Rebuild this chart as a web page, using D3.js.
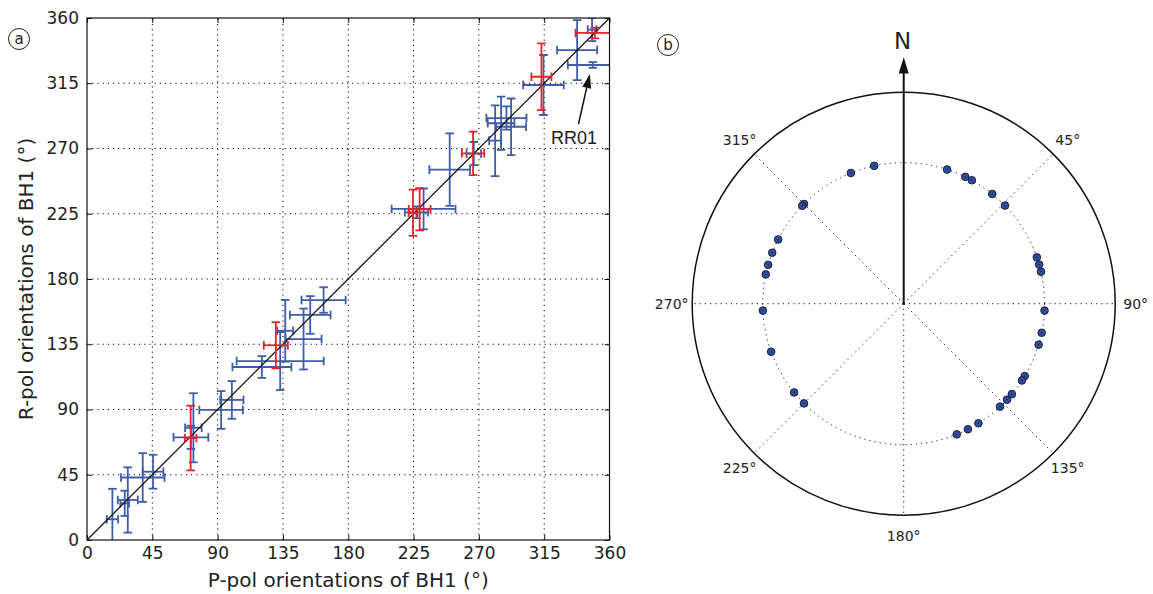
<!DOCTYPE html>
<html>
<head>
<meta charset="utf-8">
<script src="https://cdn.jsdelivr.net/npm/d3@7"></script>
<style>
  html, body { margin: 0; padding: 0; background: #fff; }
  svg { display: block; }
  text { font-family: "DejaVu Sans", sans-serif; fill: #222; }
</style>
</head>
<body>
<svg id="chart" width="1153" height="594"></svg>
<script>
// ---------- data: panel a ----------
const axisTicks = [0, 45, 90, 135, 180, 225, 270, 315, 360];
const xTitle = "P-pol orientations of BH1 (°)";
const yTitle = "R-pol orientations of BH1 (°)";

const blueP    = [17.5, 26.0, 28.1, 38.4, 45.5, 73.3, 71.6, 92.4, 99.8, 120.5, 133.1, 136.6, 149.2, 153.8, 163.0, 231.9, 227.0, 249.9, 266.5, 281.2, 285.3, 292.2, 289.0, 314.5, 337.7, 348.5, 348.0];
const blueR    = [14.3, 25.3, 27.6, 43.1, 47.1, 77.4, 70.8, 89.7, 96.6, 119.3, 123.4, 144.3, 138.6, 155.2, 165.5, 228.3, 226.0, 255.4, 266.5, 275.4, 287.4, 285.0, 291.0, 313.8, 337.9, 327.6, 352.0];
const bluePErr = [3.9, 3.0, 6.9, 15.0, 7.1, 5.7, 12.0, 15.0, 8.0, 20.3, 30.0, 5.5, 12.4, 14.0, 15.2, 22.0, 8.0, 14.0, 5.0, 4.1, 9.2, 10.3, 13.8, 14.0, 13.8, 17.2, 3.0];
const blueRErr = [21.0, 8.7, 22.5, 16.8, 11.7, 23.8, 8.0, 13.0, 13.0, 7.5, 20.0, 21.3, 21.0, 13.0, 8.8, 14.1, 4.0, 25.0, 8.0, 24.4, 18.4, 19.5, 8.0, 20.7, 20.7, 2.0, 8.0];

const redP    = [71.4, 130.1, 229.2, 224.6, 266.0, 313.1, 349.9];
const redR    = [70.3, 134.3, 228.1, 225.7, 266.7, 319.5, 349.7];
const redPErr = [4.0, 8.3, 7.5, 3.0, 7.7, 6.9, 13.3];
const redRErr = [22.3, 15.9, 14.5, 16.0, 15.0, 23.0, 3.7];

const annotationLabel = "RR01";

// ---------- data: panel b ----------
const polarAngles = [347.9, 338.0, 315.0, 314.0, 297.1, 291.2, 286.0, 282.0, 267.2,
                     17.9, 25.9, 28.9, 38.9, 45.9, 70.8, 73.9, 76.9, 92.8,
                     101.9, 106.9, 120.9, 123.0, 129.9, 132.9, 136.9, 148.0, 152.9, 157.9,
                     250.1, 231.0, 225.0];
const polarRadiusValue = 1;
const polarGridAngles = [0, 45, 90, 135, 180, 225, 270, 315];
const polarLabelAngles = [45, 90, 135, 180, 225, 270, 315];

// ---------- drawing ----------
const svg = d3.select("#chart");
const BLUE = "#3f5ca9", RED = "#e52229";

const x = d3.scaleLinear().domain([0, 360]).range([87, 609.5]);
const y = d3.scaleLinear().domain([0, 360]).range([540, 18]);

const gA = svg.append("g");

svg.append("defs").append("clipPath").attr("id", "clipA")
  .append("rect").attr("x", x(0)).attr("y", y(360))
  .attr("width", x(360) - x(0)).attr("height", y(0) - y(360));

// grid
const inner = axisTicks.filter(t => t > 0 && t < 360);
gA.append("g").selectAll("line.vg").data(inner).join("line")
  .attr("x1", d => x(d)).attr("x2", d => x(d)).attr("y1", y(0)).attr("y2", y(360))
  .attr("stroke", "#000").attr("stroke-width", 1).attr("stroke-dasharray", "1.2,4");
gA.append("g").selectAll("line.hg").data(inner).join("line")
  .attr("y1", d => y(d)).attr("y2", d => y(d)).attr("x1", x(0)).attr("x2", x(360))
  .attr("stroke", "#000").attr("stroke-width", 1).attr("stroke-dasharray", "1.2,4");

// error bars
function drawErr(g, P, R, PE, RE, color) {
  const cap = 4.3;
  const data = P.map((p, i) => ({p, r: R[i], pe: PE[i], re: RE[i]}));
  const gg = g.append("g").attr("clip-path", "url(#clipA)")
    .attr("stroke", color).attr("stroke-width", 1.8).attr("fill", "none");
  data.forEach(d => {
    const cx = x(d.p), cy = y(d.r);
    const x0 = x(d.p - d.pe), x1 = x(d.p + d.pe);
    const y0 = y(d.r - d.re), y1 = y(d.r + d.re);
    gg.append("line").attr("x1", x0).attr("x2", x1).attr("y1", cy).attr("y2", cy);
    gg.append("line").attr("x1", x0).attr("x2", x0).attr("y1", cy - cap).attr("y2", cy + cap);
    gg.append("line").attr("x1", x1).attr("x2", x1).attr("y1", cy - cap).attr("y2", cy + cap);
    gg.append("line").attr("x1", cx).attr("x2", cx).attr("y1", y0).attr("y2", y1);
    gg.append("line").attr("x1", cx - cap).attr("x2", cx + cap).attr("y1", y0).attr("y2", y0);
    gg.append("line").attr("x1", cx - cap).attr("x2", cx + cap).attr("y1", y1).attr("y2", y1);
  });
}
drawErr(gA, blueP, blueR, bluePErr, blueRErr, BLUE);

// 1:1 line
gA.append("line").attr("x1", x(0)).attr("y1", y(0)).attr("x2", x(360)).attr("y2", y(360))
  .attr("stroke", "#111").attr("stroke-width", 1.3);

drawErr(gA, redP, redR, redPErr, redRErr, RED);

// frame
gA.append("rect").attr("x", x(0)).attr("y", y(360))
  .attr("width", x(360) - x(0)).attr("height", y(0) - y(360))
  .attr("fill", "none").attr("stroke", "#111").attr("stroke-width", 1.2);

// axes
function styleAxis(g) {
  g.select(".domain").remove();
  g.selectAll(".tick line").attr("stroke", "#111").attr("stroke-width", 1);
  g.selectAll(".tick text").style("font-family", "DejaVu Sans, sans-serif")
    .style("font-size", "17px").attr("fill", "#222");
}
gA.append("g").attr("transform", `translate(0,${y(0)})`)
  .call(d3.axisBottom(x).tickValues(axisTicks).tickSizeInner(-5).tickSizeOuter(0).tickPadding(7).tickFormat(d3.format("d")))
  .call(styleAxis);
gA.append("g").attr("transform", `translate(${x(0)},0)`)
  .call(d3.axisLeft(y).tickValues(axisTicks).tickSizeInner(-5).tickSizeOuter(0).tickPadding(8).tickFormat(d3.format("d")))
  .call(styleAxis);
gA.append("g").attr("transform", `translate(0,${y(360)})`)
  .call(d3.axisTop(x).tickValues(axisTicks).tickSizeInner(-5).tickSizeOuter(0).tickFormat(""))
  .call(styleAxis);
gA.append("g").attr("transform", `translate(${x(360)},0)`)
  .call(d3.axisRight(y).tickValues(axisTicks).tickSizeInner(-5).tickSizeOuter(0).tickFormat(""))
  .call(styleAxis);

// titles
gA.append("text").attr("x", (x(0) + x(360)) / 2).attr("y", 587)
  .attr("text-anchor", "middle").style("font-size", "20px").text(xTitle);
gA.append("text").attr("transform", `translate(33,${(y(0) + y(360)) / 2}) rotate(-90)`)
  .attr("text-anchor", "middle").style("font-size", "20px").text(yTitle);

// annotation RR01
const rrIdx = 25;
gA.append("text").attr("x", 574).attr("y", 144).attr("text-anchor", "middle")
  .style("font-family", "Liberation Sans, Arial, sans-serif").style("font-size", "18px")
  .attr("fill", "#111").text(annotationLabel);
const tipX = x(blueP[rrIdx]) - 3, tipY = y(blueR[rrIdx]) + 9;
const baseX = 578.5, baseY = 124;
const ang = Math.atan2(tipY - baseY, tipX - baseX);
const hl = 14, hw = 4.5;
const bx = tipX - hl * Math.cos(ang), by = tipY - hl * Math.sin(ang);
gA.append("line").attr("x1", baseX).attr("y1", baseY).attr("x2", bx).attr("y2", by)
  .attr("stroke", "#111").attr("stroke-width", 1.5);
gA.append("path").attr("d", `M${tipX},${tipY}L${bx + hw * Math.sin(ang)},${by - hw * Math.cos(ang)}L${bx - hw * Math.sin(ang)},${by + hw * Math.cos(ang)}Z`)
  .attr("fill", "#111");

// panel letters
function panelLetter(cx, cy, letter) {
  svg.append("circle").attr("cx", cx).attr("cy", cy).attr("r", 10.5)
    .attr("fill", "none").attr("stroke", "#222").attr("stroke-width", 1);
  svg.append("text").attr("x", cx).attr("y", cy + 5).attr("text-anchor", "middle")
    .style("font-size", "15px").text(letter);
}
panelLetter(19, 39, "a");
panelLetter(668, 45, "b");

// ---------- panel b: polar ----------
const pc = {x: 903.7, y: 303.7};
const rScale = d3.scaleLinear().domain([0, 1.5]).range([0, 211.5]);
const gB = svg.append("g").attr("transform", `translate(${pc.x},${pc.y})`);
const toXY = (deg, r) => [r * Math.sin(deg * Math.PI / 180), -r * Math.cos(deg * Math.PI / 180)];

gB.selectAll("line.rad").data(polarGridAngles).join("line")
  .attr("x1", 0).attr("y1", 0)
  .attr("x2", d => toXY(d, rScale(1.5))[0]).attr("y2", d => toXY(d, rScale(1.5))[1])
  .attr("stroke", "#111").attr("stroke-width", 1).attr("stroke-dasharray", "1.2,4");
gB.append("circle").attr("r", rScale(polarRadiusValue)).attr("fill", "none")
  .attr("stroke", "#111").attr("stroke-width", 1).attr("stroke-dasharray", "1.2,4");
gB.append("circle").attr("r", rScale(1.5)).attr("fill", "none")
  .attr("stroke", "#111").attr("stroke-width", 1.5);

gB.selectAll("text.lab").data(polarLabelAngles).join("text")
  .attr("x", d => toXY(d, 232)[0]).attr("y", d => toXY(d, 232)[1] + 5)
  .attr("text-anchor", "middle").style("font-size", "14px").text(d => d + "°");

// dots
gB.selectAll("circle.dot").data(polarAngles).join("circle")
  .attr("cx", d => toXY(d, rScale(polarRadiusValue))[0])
  .attr("cy", d => toXY(d, rScale(polarRadiusValue))[1])
  .attr("r", 3.8).attr("fill", "#2f4f9e").attr("stroke", "#141c33").attr("stroke-width", 1);
gB.selectAll("circle.dc").data(polarAngles).join("circle")
  .attr("cx", d => toXY(d, rScale(polarRadiusValue))[0])
  .attr("cy", d => toXY(d, rScale(polarRadiusValue))[1])
  .attr("r", 0.7).attr("fill", "#111");

// north arrow
gB.append("line").attr("x1", 0).attr("y1", 0).attr("x2", 0).attr("y2", 57.3 - pc.y + 14)
  .attr("stroke", "#111").attr("stroke-width", 2);
gB.append("path").attr("d", `M0,${57.3 - pc.y}L5,${73.5 - pc.y}L-5,${73.5 - pc.y}Z`).attr("fill", "#111");
gB.append("text").attr("x", -1).attr("y", 48.5 - pc.y).attr("text-anchor", "middle")
  .style("font-size", "23px").text("N");
gB.append("circle").attr("r", 1.2).attr("fill", "#111");
</script>
</body>
</html>
